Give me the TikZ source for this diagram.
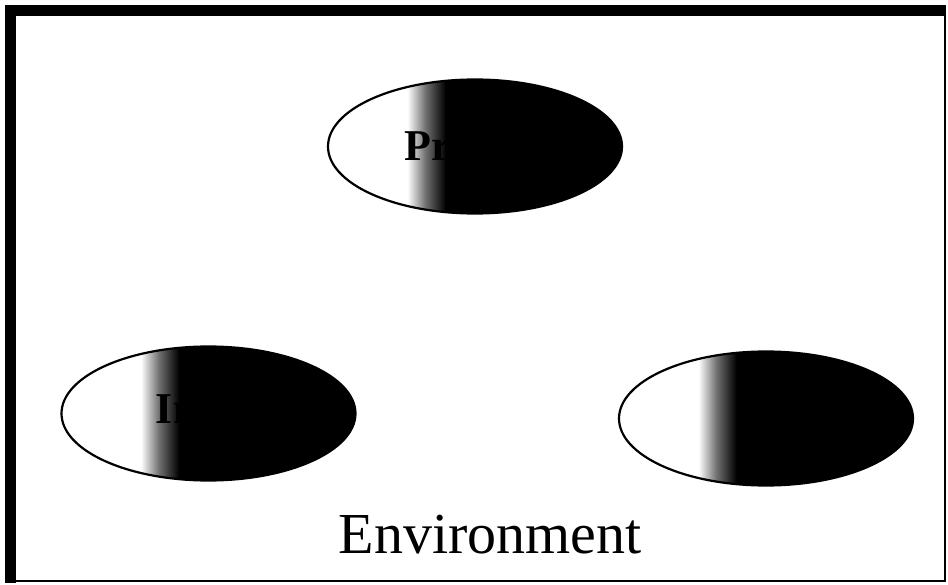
\documentclass[tikz,border=0pt]{standalone}
\usepackage{fontspec}
\setmainfont{Liberation Serif}
\usetikzlibrary{shapes.geometric}

% white on the left, a short grey step, then black
\pgfdeclarehorizontalshading{ovalshade}{100bp}{color(0bp)=(white); color(38.5bp)=(white);
  color(41.5bp)=(black!55); color(45bp)=(black); color(100bp)=(black)}

\begin{document}
\begin{tikzpicture}[
  x=1bp, y=-1bp,
  oval/.style={ellipse, draw=black, line width=2.2bp, shade, shading=ovalshade,
    minimum width=294bp, minimum height=134bp, inner sep=0pt,
    font=\fontsize{44bp}{48bp}\selectfont\bfseries},
  envtext/.style={anchor=base, inner sep=0pt, font=\fontsize{58bp}{62bp}\selectfont},
  frameline/.style={line width=2.5bp}
]
  \useasboundingbox (0,0) rectangle (948,585);

  % frame: heavy top and left edge
  \draw[frameline] (6,6) rectangle (945,581);
  \fill (5,5) rectangle (946,16);
  \fill (5,5) rectangle (16,583);

  \node[oval] (proc) at (475,146.5) {Process};
  \node[oval] (inp) at (208.5,413.5) {Input};
  \node[oval] (outp) at (766,418.5) {};

  \node[envtext] (env) at (490,553) {Environment};
\end{tikzpicture}
\end{document}
